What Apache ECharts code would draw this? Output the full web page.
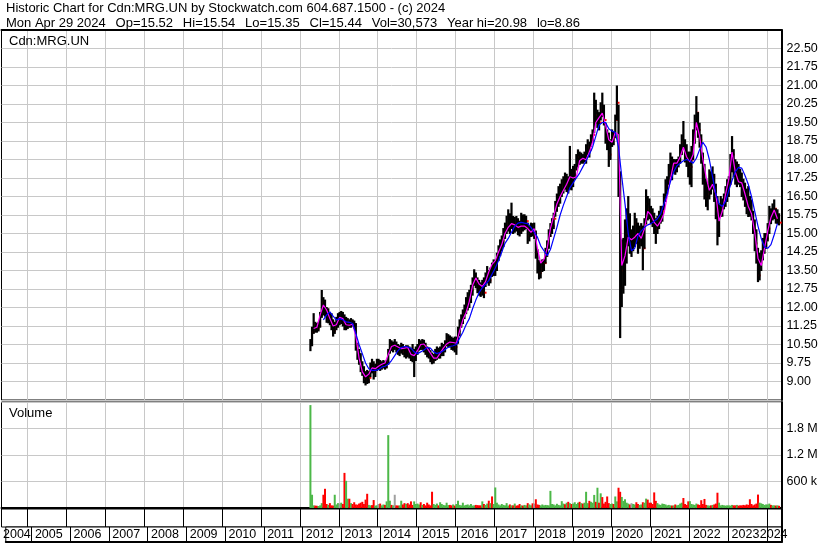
<!DOCTYPE html>
<html><head><meta charset="utf-8">
<script src="https://cdn.jsdelivr.net/npm/echarts@6/dist/echarts.min.js"></script>
<style>html,body{margin:0;padding:0;background:#fff}#c{width:830px;height:543px}</style>
</head><body><div id="c"></div>
<script>
const FONT = '"Liberation Sans", Arial, Helvetica, sans-serif';
const titleLine1 = 'Historic Chart for Cdn:MRG.UN by Stockwatch.com 604.687.1500 - (c) 2024';
const titleFields = ['Mon Apr 29 2024', 'Op=15.52', 'Hi=15.54', 'Lo=15.35', 'Cl=15.44', 'Vol=30,573', 'Year hi=20.98', 'lo=8.86'];
const symbolLabel = 'Cdn:MRG.UN';
const volumeLabel = 'Volume';

// half-month periods (a = 1st half, b = 2nd half), first bar = April 2012 (first half)
const priceStart = '2012-04a';
const highs = [
 10.70,11.20,11.75,11.40,11.35,11.40,11.80,12.69,12.40,12.30,12.00,11.95,11.80,11.75,11.50,11.40,11.60,11.75,
 11.80,11.84,11.80,11.70,11.60,11.55,11.50,11.55,11.50,11.45,11.35,10.55,10.30,10.13,9.80,9.60,9.40,9.45,9.40,9.75,9.90,9.80,9.70,9.90,
 9.90,9.85,9.80,9.85,9.80,9.85,10.30,10.70,10.65,10.60,10.70,10.60,10.50,10.45,10.55,10.50,10.40,10.45,10.45,10.40,10.35,10.50,10.30,10.40,
 10.50,10.70,10.65,10.70,10.67,10.55,10.40,10.35,10.25,10.15,10.10,10.30,10.40,10.35,10.40,10.55,10.50,10.65,10.94,10.90,10.85,10.80,10.75,10.80,
 10.80,11.20,11.50,11.70,11.90,12.10,12.40,12.60,12.70,12.90,13.20,13.53,13.40,13.20,13.10,13.00,13.10,13.20,13.40,13.66,13.50,13.60,13.80,13.93,
 13.90,14.20,14.50,14.74,14.90,15.20,15.42,15.70,15.96,15.80,16.23,15.69,15.65,15.69,15.60,15.50,15.82,15.75,15.76,15.70,15.42,15.30,15.42,15.40,
 15.42,15.10,14.34,13.90,13.80,13.93,13.95,14.40,14.70,15.15,15.40,15.60,15.82,16.30,16.60,16.90,17.00,17.18,17.30,17.45,17.40,17.30,18.53,17.60,
 17.72,17.80,18.20,18.39,18.30,18.26,18.20,18.30,18.60,18.80,18.70,19.00,19.20,20.69,20.40,20.00,19.90,20.30,20.69,20.20,19.47,19.20,19.07,18.80,
 19.20,19.10,19.80,20.98,20.20,17.50,14.74,14.80,15.55,16.00,16.50,15.80,15.15,15.30,15.82,15.60,15.42,15.30,15.40,15.30,15.60,16.77,16.50,16.40,
 16.10,16.00,15.82,15.60,15.70,15.90,16.10,16.10,16.60,17.18,17.30,17.80,18.26,18.10,18.00,17.99,18.00,18.10,18.60,19.00,19.54,18.80,18.60,18.30,
 18.30,18.53,19.20,19.80,20.55,19.90,19.47,19.00,18.26,17.80,17.20,17.00,17.58,17.50,17.70,17.40,17.00,16.50,16.20,16.50,16.40,16.60,16.90,17.18,
 17.30,18.20,18.93,18.40,17.99,17.90,17.80,17.60,17.45,17.20,17.04,16.80,16.90,16.50,16.36,15.90,15.55,15.15,14.40,14.20,14.30,14.80,15.00,15.00,
 15.40,16.10,16.00,16.20,16.36,16.00,15.96,15.80
];
const lows = [
 10.25,10.45,10.95,11.00,11.00,11.05,11.20,11.60,11.70,11.65,11.40,11.38,11.30,11.10,10.84,10.95,11.10,11.20,
 11.30,11.35,11.25,11.10,11.10,11.15,11.20,11.20,11.25,11.15,10.27,9.90,9.70,9.40,9.25,8.95,8.86,8.92,8.95,9.20,9.35,9.10,9.20,9.45,
 9.50,9.45,9.50,9.55,9.50,9.55,9.70,10.15,10.25,10.20,10.30,10.20,10.10,10.05,10.15,10.10,10.00,9.95,10.00,9.95,9.85,9.80,9.20,9.85,
 10.10,10.27,10.30,10.30,10.20,10.10,10.00,9.95,9.80,9.72,9.75,9.85,9.90,9.95,9.95,10.05,10.05,10.20,10.45,10.40,10.40,10.30,10.27,10.20,
 10.10,10.55,10.85,11.20,11.35,11.55,11.75,11.90,12.00,12.20,12.50,12.90,12.80,12.60,12.50,12.45,12.50,12.40,12.85,13.00,12.90,13.00,13.26,13.30,
 13.30,13.50,13.90,14.10,14.30,14.47,14.80,15.00,15.10,15.00,15.20,15.00,15.05,15.10,14.95,14.90,15.00,15.10,15.15,15.20,14.60,14.70,14.88,14.90,
 14.80,14.00,13.40,13.16,13.20,13.46,13.50,13.80,14.07,14.40,14.88,15.00,15.20,15.70,15.90,16.10,16.23,16.50,16.64,16.80,16.70,16.64,16.80,16.77,
 16.90,17.20,17.58,17.70,17.80,17.85,17.85,17.90,17.85,18.20,18.10,18.53,18.70,19.10,19.47,19.30,19.20,19.60,19.74,19.40,18.66,18.40,17.72,18.00,
 18.53,18.60,18.90,19.60,16.50,10.78,12.04,12.58,12.90,13.80,14.50,14.20,14.07,14.30,14.47,14.60,14.20,14.40,14.50,13.53,14.40,15.40,15.55,15.60,
 15.40,15.28,15.00,14.60,15.00,15.20,15.42,15.50,15.96,16.30,16.60,17.00,17.30,17.18,17.45,17.40,17.50,17.70,17.85,18.20,18.40,17.90,17.72,17.30,
 17.00,16.90,18.00,18.66,19.20,18.90,18.50,17.85,17.00,16.40,16.10,15.96,16.40,16.60,16.80,16.30,15.60,14.54,14.88,15.69,15.70,16.00,16.10,16.30,
 16.50,17.00,17.50,17.31,17.00,16.90,17.00,16.90,16.50,16.36,16.10,15.80,15.69,15.70,15.55,15.00,14.30,13.80,13.05,13.12,13.50,13.93,14.20,14.40,
 14.70,15.00,15.40,15.55,15.60,15.42,15.40,15.35
];
const closes = [
 10.50,11.00,11.30,11.20,11.15,11.25,11.70,12.20,12.00,11.90,11.60,11.70,11.50,11.30,11.05,11.20,11.40,11.50,
 11.50,11.70,11.40,11.25,11.35,11.40,11.30,11.45,11.35,11.30,10.45,10.10,9.85,9.55,9.40,9.10,9.05,9.00,9.15,9.60,9.55,9.40,9.55,9.70,
 9.70,9.60,9.65,9.75,9.60,9.80,10.20,10.50,10.40,10.45,10.45,10.35,10.25,10.30,10.40,10.20,10.15,10.30,10.25,10.10,10.00,9.90,9.95,10.25,
 10.35,10.55,10.45,10.60,10.40,10.25,10.15,10.05,9.95,9.85,10.00,10.10,10.20,10.15,10.25,10.35,10.40,10.50,10.70,10.80,10.55,10.50,10.60,10.40,
 10.60,11.05,11.30,11.55,11.75,11.85,12.20,12.30,12.40,12.70,13.00,13.20,13.00,12.80,12.70,12.60,12.95,12.60,13.20,13.30,13.10,13.45,13.35,13.70,
 13.80,14.00,14.30,14.50,14.70,15.00,15.20,15.40,15.60,15.30,15.50,15.25,15.40,15.30,15.20,15.10,15.50,15.30,15.40,15.50,14.90,15.10,15.20,15.00,
 15.00,14.20,13.60,13.40,13.55,13.75,13.80,14.20,14.50,14.90,15.20,15.30,15.60,16.10,16.30,16.50,16.80,16.90,17.10,17.00,17.20,16.90,17.30,17.20,
 17.40,17.60,17.90,18.10,18.00,18.10,18.00,18.15,18.40,18.50,18.40,18.80,19.00,19.90,19.80,19.85,19.50,20.00,19.90,19.60,18.90,18.70,18.20,18.60,
 19.00,18.90,19.60,20.30,17.00,12.80,13.50,14.00,14.60,15.00,15.20,14.60,14.60,14.90,15.40,15.00,14.70,14.90,15.00,14.40,15.40,16.20,16.00,15.90,
 15.70,15.55,15.30,15.20,15.40,15.60,15.80,15.90,16.40,16.90,17.00,17.50,17.70,17.60,17.80,17.70,17.90,17.95,18.30,18.70,18.60,18.20,18.00,17.60,
 17.70,18.00,18.80,19.40,19.90,19.20,18.80,18.10,17.40,16.80,16.50,16.60,17.20,17.00,17.30,16.60,15.90,15.20,15.80,16.00,16.10,16.40,16.60,16.90,
 17.00,17.90,18.20,17.70,17.40,17.50,17.30,17.10,16.90,16.60,16.40,16.20,16.00,15.90,15.70,15.20,14.60,14.00,13.30,13.80,14.10,14.50,14.70,14.80,
 15.20,15.80,15.70,15.90,16.00,15.60,15.70,15.44
];
// volume per half-month bar, thousands of units
const volumesK = [
 2330,300,60,55,50,45,60,110,300,435,90,70,110,60,55,300,80,110,
 100,120,90,795,615,210,210,110,90,130,80,75,100,120,140,90,190,322,70,60,65,180,55,60,
 90,100,60,80,70,150,1650,165,70,60,300,60,55,60,165,80,110,90,110,80,150,70,150,90,
 100,80,130,70,90,60,120,80,60,368,90,70,100,60,130,90,70,60,120,65,70,60,80,55,
 90,165,70,60,120,60,70,80,60,90,55,60,70,65,60,60,150,90,70,100,165,110,262,90,
 465,120,80,60,90,70,60,110,55,80,60,60,100,55,60,90,60,55,70,60,110,80,60,105,
 100,198,80,70,60,80,60,70,65,60,388,90,80,60,95,70,60,155,100,85,120,140,110,90,
 100,130,90,120,140,110,100,120,367,110,162,140,120,296,140,459,120,332,247,100,140,261,110,90,
 100,90,261,150,459,367,250,160,198,120,100,80,110,90,80,130,90,70,80,130,120,212,190,120,
 120,90,353,162,110,80,70,100,90,80,60,70,60,55,60,80,60,70,100,120,226,90,70,150,
 155,90,80,70,100,80,70,176,90,205,70,60,55,60,70,80,100,346,120,60,70,60,55,60,
 60,55,70,60,60,70,55,60,60,70,60,80,70,198,90,60,80,100,304,120,105,90,70,80,
 80,100,70,60,60,55,60,50
];
// moving averages read monthly
const maShortStart = '2012-05';
const maShort = [
 11.15,11.20,11.70,12.10,11.90,11.55,11.25,11.30,
 11.60,11.55,11.30,11.28,11.32,10.85,9.95,9.40,9.19,9.30,9.55,9.52,
 9.62,9.70,9.75,10.10,10.42,10.47,10.40,10.33,10.35,10.38,10.10,10.05,
 10.25,10.50,10.52,10.35,10.15,9.95,9.95,10.15,10.35,10.52,10.60,10.58,
 10.55,11.05,11.50,11.80,12.25,12.90,13.20,12.95,12.85,13.05,13.45,13.75,
 13.90,14.25,14.55,15.00,15.25,15.40,15.35,15.25,15.30,15.30,15.20,15.05,
 15.20,14.40,13.80,13.95,14.40,15.20,15.70,16.20,16.50,16.75,17.00,17.30,
 17.25,17.30,17.95,18.05,17.99,18.30,18.70,19.50,19.70,19.88,19.40,18.80,
 18.70,19.10,19.00,13.70,14.10,14.85,14.75,14.85,15.00,14.80,15.20,15.90,
 15.75,15.45,15.30,15.50,15.80,16.50,17.20,17.85,17.85,18.10,18.50,18.10,
 17.90,18.20,19.50,18.95,18.00,17.30,16.75,17.00,16.60,15.50,15.90,16.60,
 17.20,18.30,17.50,17.10,17.05,16.60,16.10,15.80,15.05,14.00,13.70,14.40,
 15.10,15.65,15.95,15.60
];
const maLongStart = '2012-08';
const maLong = [
 11.50,11.70,11.82,11.65,11.50,
 11.55,11.50,11.42,11.40,11.35,10.95,10.50,10.13,9.75,9.52,9.45,9.45,
 9.48,9.58,9.62,9.70,9.85,10.05,10.25,10.38,10.42,10.40,10.35,10.20,
 10.13,10.20,10.28,10.38,10.35,10.20,10.13,10.18,10.25,10.35,10.42,10.45,
 10.50,10.75,11.00,11.30,11.55,11.95,12.30,12.60,12.80,12.95,13.10,13.35,
 13.60,13.90,14.25,14.60,14.80,15.05,15.30,15.42,15.45,15.42,15.40,15.25,
 15.05,14.85,14.50,14.30,14.10,14.35,14.80,15.25,15.75,16.15,16.50,16.85,
 17.05,17.25,17.45,17.70,17.95,18.20,18.50,18.95,19.40,19.50,19.50,19.25,
 19.15,19.10,18.50,17.30,16.20,15.00,14.30,14.40,14.90,15.10,15.25,15.35,
 15.40,15.50,15.60,15.80,16.20,16.60,17.10,17.50,17.75,17.85,17.95,18.00,
 17.95,17.85,18.05,18.40,18.70,18.50,18.00,17.30,16.60,16.20,16.10,16.30,
 16.75,17.15,17.50,17.68,17.65,17.35,17.00,16.50,15.90,15.30,14.80,14.45,
 14.40,14.55,14.95,15.40
];
// axis scales / tick labels
const priceMin = 8.25, priceMax = 23.25, priceStep = 0.75;
const volMin = 0, volMax = 2400000, volStep = 600000;
const volTickLabels = {600000: '600 k', 1200000: '1.2 M', 1800000: '1.8 M'};
const firstYearLabel = {cat: '2004-12b', text: '2004'};
const lastYearLabel = {cat: '2023-10b', text: '2024'};

// ---- build half-month categories: May 2004 .. first half of May 2024
const pad = n => (n < 10 ? '0' : '') + n;
const cats = [];
for (let y = 2004; y <= 2024; y++) {
  for (let m = 1; m <= 12; m++) {
    for (const h of ['a', 'b']) {
      if (y === 2004 && m < 5) continue;
      if (y === 2024 && (m > 5 || (m === 5 && h === 'b'))) continue;
      cats.push(y + '-' + pad(m) + h);
    }
  }
}
const p0 = cats.indexOf(priceStart);
const priceData = highs.map((h, i) => [cats[p0 + i], h, lows[i], closes[i]]);
const GREEN = '#4cb848', RED = '#ff0000', GRAY = '#a0a0a0';
const volData = volumesK.map((v, i) => {
  let col = GREEN;
  if (i > 0) col = closes[i] > closes[i - 1] ? GREEN : (closes[i] < closes[i - 1] ? RED : GRAY);
  return {value: [cats[p0 + i], v * 1000], itemStyle: {color: col}};
});
function monthSeries(start, arr) {
  const sy = +start.slice(0, 4), sm = +start.slice(5, 7);
  return arr.map((v, i) => {
    const k = sm - 1 + i;
    return [(sy + Math.floor(k / 12)) + '-' + pad(k % 12 + 1) + 'a', v];
  });
}
const isYearStart = (i, v) => v.slice(5) === '01a';
const isLabelYear = (i, v) => v.slice(5) === '01a' && +v.slice(0, 4) <= 2023;

const G = {left: 1.5, right: 48.5, show: true, borderColor: '#000', borderWidth: 1, backgroundColor: '#fff'};
const txt = {fontFamily: FONT, fontSize: 12.5, color: '#000', fontWeight: 'normal'};
const ttl = {fontFamily: FONT, fontSize: 13, color: '#000', fontWeight: 'normal'};
const hiddenX = (gi, extra) => Object.assign({
  type: 'category', data: cats, gridIndex: gi,
  axisLine: {show: false}, axisTick: {show: false}, axisLabel: {show: false},
  splitLine: {show: false}
}, extra || {});
const singleLabelX = (item, align) => hiddenX(3, {position: 'bottom',
  axisLabel: Object.assign({show: true, interval: (i, v) => v === item.cat, formatter: () => item.text,
    align: align, verticalAlign: 'middle', margin: -7}, txt)});

const option = {
  animation: false,
  backgroundColor: '#fff',
  title: [
    {text: titleLine1, left: 6, top: 1.5, padding: 0, textStyle: ttl},
    {text: titleFields.join('  \u2009'), left: 6, top: 16.5, padding: 0, textStyle: ttl},
    {text: symbolLabel, left: 9, top: 35, padding: 0, textStyle: ttl, z: 10},
    {text: volumeLabel, left: 9, top: 407, padding: 0, textStyle: ttl, z: 10}
  ],
  grid: [
    Object.assign({}, G, {top: 30, height: 370}),
    Object.assign({}, G, {top: 402, height: 106}),
    Object.assign({}, G, {top: 509, height: 18}),
    Object.assign({}, G, {top: 527, height: 15})
  ],
  xAxis: [
    hiddenX(0, {position: 'top', axisLine: {show: true, lineStyle: {color: '#000', width: 2}},
      splitLine: {show: true, interval: isYearStart, lineStyle: {color: '#c8c8c8', width: 1}}}),
    hiddenX(1, {position: 'bottom', offset: 1, axisLine: {show: true, lineStyle: {color: '#000', width: 2}},
      splitLine: {show: true, interval: isYearStart, lineStyle: {color: '#c8c8c8', width: 1}}}),
    hiddenX(2, {splitLine: {show: true, interval: isYearStart, lineStyle: {color: '#000', width: 1}}}),
    hiddenX(3, {position: 'bottom', axisLine: {show: true, lineStyle: {color: '#000', width: 2}},
      splitLine: {show: true, interval: isYearStart, lineStyle: {color: '#000', width: 1}},
      axisLabel: Object.assign({show: true, interval: isLabelYear, formatter: v => v.slice(0, 4),
        align: 'left', verticalAlign: 'middle', margin: -7, padding: [0, 0, 0, 2.5]}, txt)}),
    singleLabelX(firstYearLabel, 'right'),
    singleLabelX(lastYearLabel, 'left')
  ],
  yAxis: [
    {type: 'value', gridIndex: 0, position: 'right', min: priceMin, max: priceMax, interval: priceStep,
      axisLine: {show: true, lineStyle: {color: '#000', width: 2}}, axisTick: {show: false},
      axisLabel: Object.assign({formatter: v => v.toFixed(2), showMinLabel: false, showMaxLabel: false, margin: 5}, txt),
      splitLine: {show: true, lineStyle: {color: '#c8c8c8', width: 1}}},
    {type: 'value', gridIndex: 1, position: 'right', min: volMin, max: volMax, interval: volStep,
      axisLine: {show: true, lineStyle: {color: '#000', width: 2}}, axisTick: {show: false},
      axisLabel: Object.assign({formatter: v => volTickLabels[v] || '', showMinLabel: false, showMaxLabel: false, margin: 5}, txt),
      splitLine: {show: true, lineStyle: {color: '#c8c8c8', width: 1}}},
    {type: 'value', gridIndex: 2, position: 'right', min: 0, max: 1,
      axisLine: {show: true, lineStyle: {color: '#000', width: 2}}, axisTick: {show: false},
      axisLabel: {show: false}, splitLine: {show: false}},
    {type: 'value', gridIndex: 3, position: 'right', min: 0, max: 1,
      axisLine: {show: true, lineStyle: {color: '#000', width: 2}}, axisTick: {show: false},
      axisLabel: {show: false}, splitLine: {show: false}}
  ],
  series: [
    {type: 'custom', xAxisIndex: 0, yAxisIndex: 0, data: priceData, encode: {x: 0, y: [1, 2, 3]}, clip: true, z: 2,
      renderItem: function (params, api) {
        const x = api.value(0);
        const hi = api.coord([x, api.value(1)]);
        const lo = api.coord([x, api.value(2)]);
        const cl = api.coord([x, api.value(3)]);
        const w = api.size([1, 0])[0];
        return {type: 'group', children: [
          {type: 'line', shape: {x1: hi[0], y1: hi[1] - 0.5, x2: lo[0], y2: lo[1] + 0.5}, style: {stroke: '#000', lineWidth: w + 0.6}},
          {type: 'rect', shape: {x: cl[0] + w * 0.5, y: cl[1] - 1, width: 1.8, height: 2}, style: {fill: RED}}
        ]};
      }},
    {type: 'line', xAxisIndex: 0, yAxisIndex: 0, data: monthSeries(maShortStart, maShort), symbol: 'none', z: 3,
      lineStyle: {color: '#ff00ff', width: 1.2}},
    {type: 'line', xAxisIndex: 0, yAxisIndex: 0, data: monthSeries(maLongStart, maLong), symbol: 'none', z: 4,
      lineStyle: {color: '#0000ff', width: 1.2}},
    {type: 'bar', xAxisIndex: 1, yAxisIndex: 1, data: volData, barWidth: 2, z: 2}
  ]
};
const chart = echarts.init(document.getElementById('c'), null, {renderer: 'canvas'});
chart.setOption(option);
</script></body></html>
